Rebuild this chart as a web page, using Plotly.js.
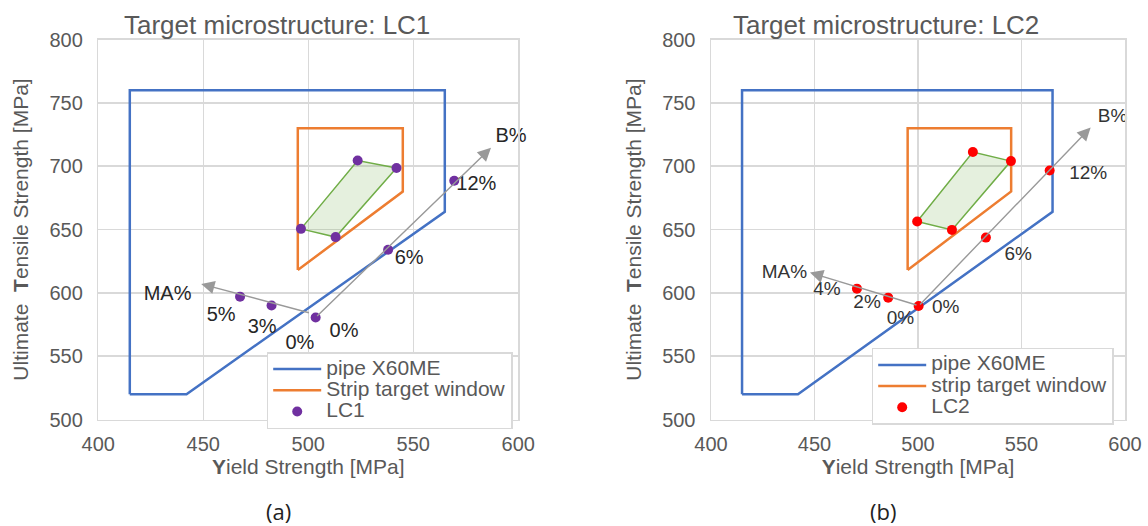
<!DOCTYPE html>
<html>
<head>
<meta charset="utf-8">
<script src="https://cdn.plot.ly/plotly-3.0.1.min.js"></script>
<style>html,body{margin:0;padding:0;background:#fff;}#chart{width:1148px;height:526px;}</style>
</head>
<body>
<div id="chart"></div>
<script>
// ---------- shared windows ----------
const pipeX = [415, 415, 565, 565, 442, 415];
const pipeY = [520, 760, 760, 664, 520, 520];
const stripX = [495, 495, 545, 545, 495];
const stripY = [618, 730, 730, 680, 618];

// ---------- panel (a): LC1 ----------
const lc1WinX = [496.5, 513, 542, 523.5, 496.5];
const lc1WinY = [650.5, 644, 698.5, 704.5, 650.5];
const lc1X = [496.5, 513, 542, 523.5, 467.5, 482.5, 503.5, 538, 569.5];
const lc1Y = [650.5, 644, 698.5, 704.5, 597, 590, 580.5, 634, 688.5];
const lc1MaArrow = {x0: 501, y0: 584, x1: 449, y1: 607};
const lc1BArrow = {x0: 503.5, y0: 580.5, x1: 587, y1: 714.5};
const lc1LabelText = ["MA%", "5%", "3%", "0%", "0%", "6%", "12%", "B%"];
const lc1LabelX = [433, 458.5, 478, 496, 517, 548, 580, 596.5];
const lc1LabelY = [598, 582, 572.5, 560, 569, 627, 685, 723];

// ---------- panel (b): LC2 ----------
const lc2WinX = [499.6, 516.4, 544.9, 526.5, 499.6];
const lc2WinY = [656.3, 649.7, 704, 711.2, 656.3];
const lc2X = [499.6, 516.4, 544.9, 526.5, 470.5, 485.6, 500.3, 532.8, 563.6];
const lc2Y = [656.3, 649.7, 704, 711.2, 603.3, 596.2, 589.6, 643.6, 696.6];
const lc2MaArrow = {x0: 500, y0: 590, x1: 447.8, y1: 616};
const lc2BArrow = {x0: 500.3, y0: 589.6, x1: 583.4, y1: 730.6};
const lc2LabelText = ["MA%", "4%", "2%", "0%", "0%", "6%", "12%", "B%"];
const lc2LabelX = [435.5, 456, 475.4, 491.5, 513.4, 548.4, 582.2, 594];
const lc2LabelY = [615.3, 602, 591.4, 579.5, 588, 629.8, 694, 739];

const xTicks = [400, 450, 500, 550, 600];
const yTicks = [500, 550, 600, 650, 700, 750, 800];

const FONT = "Liberation Sans, Arial, sans-serif";
const GREY = "#595959";
const GRID = "#d9d9d9";
const BLUE = "#4472C4", ORANGE = "#ED7D31", GREEN = "#70AD47";

function lg(t) { return '<span style="font-size:21px">' + t + '</span>'; }

function panelTraces(xa, ya, legendId, winX, winY, ptsX, ptsY, ptName, ptColor, stripName, lblX, lblY, lblT, lblColor, lblSize) {
  return [
    {x: winX, y: winY, xaxis: xa, yaxis: ya, mode: "lines", fill: "toself",
     fillcolor: "rgba(112,173,71,0.18)", line: {color: GREEN, width: 1.5},
     showlegend: false, hoverinfo: "skip"},
    {x: pipeX, y: pipeY, xaxis: xa, yaxis: ya, mode: "lines", name: lg("pipe X60ME"),
     line: {color: BLUE, width: 2.5}, legend: legendId},
    {x: stripX, y: stripY, xaxis: xa, yaxis: ya, mode: "lines", name: lg(stripName),
     line: {color: ORANGE, width: 2.5}, legend: legendId},
    {x: ptsX, y: ptsY, xaxis: xa, yaxis: ya, mode: "markers", name: lg(ptName),
     marker: {color: ptColor, size: 10}, legend: legendId},
    {x: lblX, y: lblY, text: lblT, xaxis: xa, yaxis: ya, mode: "text",
     textfont: {family: FONT, size: lblSize, color: lblColor}, textposition: "middle center",
     showlegend: false, hoverinfo: "skip", cliponaxis: false}
  ];
}

const data = [].concat(
  panelTraces("x", "y", "legend", lc1WinX, lc1WinY, lc1X, lc1Y, "LC1", "#7030A0", "Strip target window",
              lc1LabelX, lc1LabelY, lc1LabelText, "#262626", 20),
  panelTraces("x2", "y2", "legend2", lc2WinX, lc2WinY, lc2X, lc2Y, "LC2", "#FF0000", "strip target window",
              lc2LabelX, lc2LabelY, lc2LabelText, "#333333", 19)
);

function xAxis(domain, anchor) {
  return {domain: domain, anchor: anchor, range: [400, 600], tickvals: xTicks,
    showgrid: true, gridcolor: GRID, gridwidth: 1.5, zeroline: false,
    showline: true, linecolor: GRID, linewidth: 1.5, mirror: true,
    ticks: "outside", ticklen: 6, tickcolor: "rgba(0,0,0,0)",
    tickfont: {family: FONT, size: 20, color: GREY}, automargin: "height",
    title: {text: "<b>Y</b>ield Strength [MPa]", standoff: 1, font: {family: FONT, size: 21, color: GREY}}};
}
function yAxis(domain, anchor) {
  return {domain: domain, anchor: anchor, range: [500, 800], tickvals: yTicks,
    showgrid: true, gridcolor: GRID, gridwidth: 1.5, zeroline: false,
    showline: true, linecolor: GRID, linewidth: 1.5, mirror: true,
    ticks: "outside", ticklen: 10, tickcolor: "rgba(0,0,0,0)",
    tickfont: {family: FONT, size: 20, color: GREY}, automargin: "width",
    title: {text: "Ultimate  <b>T</b>ensile Strength [MPa]", standoff: 15, font: {family: FONT, size: 21, color: GREY}}};
}

function arrow(a, xr, yr) {
  return {x: a.x1, y: a.y1, ax: a.x0, ay: a.y0, xref: xr, yref: yr, axref: xr, ayref: yr,
    showarrow: true, arrowhead: 2, arrowsize: 1.9, arrowwidth: 1.4, arrowcolor: "#999999", text: ""};
}

function label(t, x, y, size, color, fam) {
  return {text: t, xref: "paper", yref: "paper", x: x, y: y, xanchor: "center", yanchor: "middle",
    showarrow: false, font: {family: fam || FONT, size: size, color: color}};
}

const yDom = [1 - 419.5 / 526, 1 - 39.5 / 526];
const legendBase = {xanchor: "left", yanchor: "top", bgcolor: "#ffffff", bordercolor: GRID, borderwidth: 1.5,
  font: {family: FONT, size: 14, color: GREY}, tracegroupgap: 0, itemwidth: 48};

const layout = {
  width: 1148, height: 526,
  margin: {l: 0, r: 0, t: 0, b: 0, autoexpand: false},
  paper_bgcolor: "#ffffff", plot_bgcolor: "#ffffff",
  font: {family: FONT, color: GREY},
  xaxis: xAxis([98.3 / 1148, 518.3 / 1148], "y"),
  yaxis: yAxis(yDom, "x"),
  xaxis2: xAxis([711 / 1148, 1125 / 1148], "y2"),
  yaxis2: yAxis(yDom, "x2"),
  legend: Object.assign({}, legendBase, {x: 266.7 / 1148, y: 1 - 352 / 526}),
  legend2: Object.assign({}, legendBase, {x: 871.7 / 1148, y: 1 - 347.8 / 526}),
  annotations: [
    arrow(lc1MaArrow, "x", "y"), arrow(lc1BArrow, "x", "y"),
    arrow(lc2MaArrow, "x2", "y2"), arrow(lc2BArrow, "x2", "y2"),
    label("Target microstructure: LC1", 277 / 1148, 1 - 25 / 526, 26, GREY),
    label("Target microstructure: LC2", 885.5 / 1148, 1 - 25 / 526, 26, GREY),
    label("(a)", 278 / 1148, 1 - 511 / 526, 22, "#222222", "Open Sans, sans-serif"),
    label("(b)", 883 / 1148, 1 - 511 / 526, 22, "#222222", "Open Sans, sans-serif")
  ]
};

Plotly.newPlot("chart", data, layout, {displayModeBar: false, staticPlot: true});
</script>
</body>
</html>
